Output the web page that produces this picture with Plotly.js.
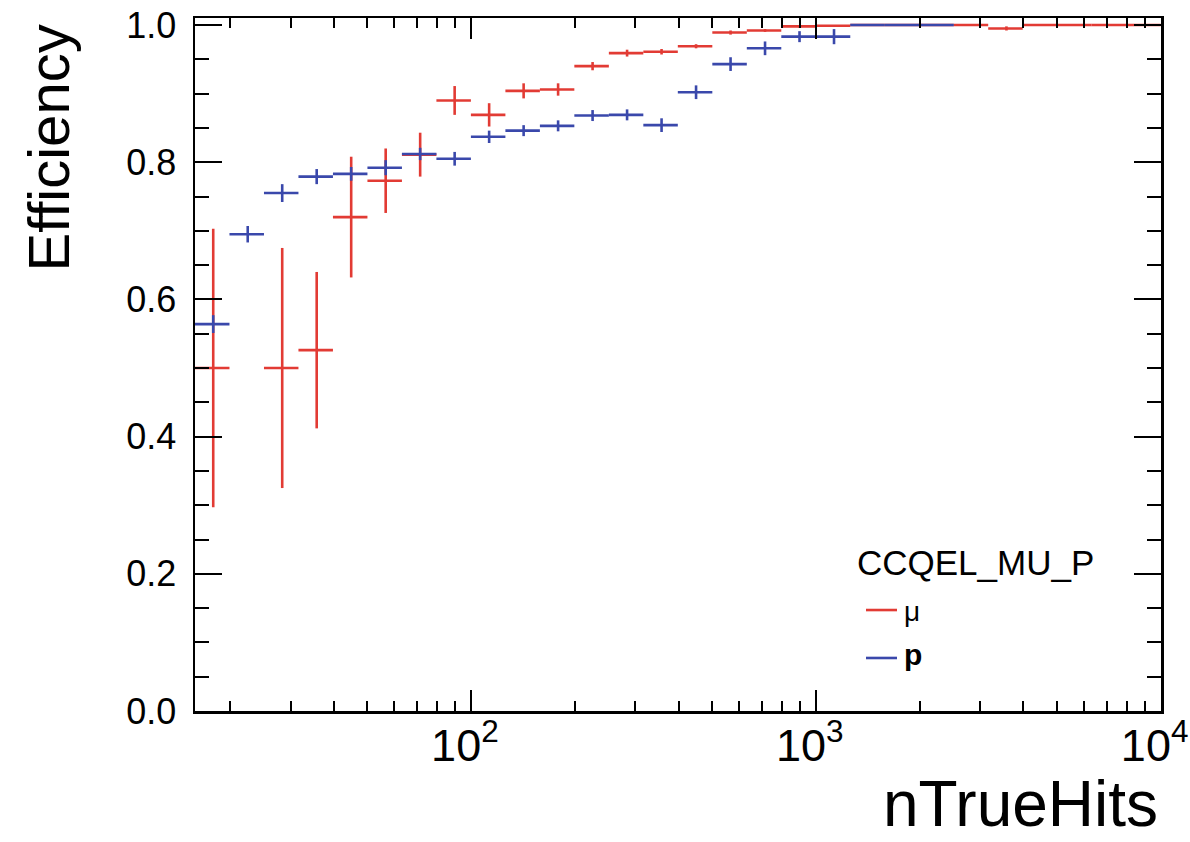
<!DOCTYPE html>
<html>
<head>
<meta charset="utf-8">
<script src="https://cdn.plot.ly/plotly-3.0.1.min.js"></script>
<style>
  html, body { margin: 0; padding: 0; background: #ffffff; }
  #chart { width: 1190px; height: 842px; }
</style>
</head>
<body>
<div id="chart"></div>
<script>
// Bin edges in nTrueHits (logarithmic binning, 0.1 decade per bin)
const binEdges = [15.85, 19.95, 25.12, 31.62, 39.81, 50.12, 63.10, 79.43, 100,
  125.9, 158.5, 199.5, 251.2, 316.2, 398.1, 501.2, 631.0, 794.3, 1000,
  1259, 1585, 1995, 2512, 3162, 3981, 5012, 6310, 7943, 10000];

// Muon reconstruction efficiency per bin and its uncertainty
const muEff = [0.500, null, 0.500, 0.526, 0.720, 0.773, 0.811, 0.890, 0.869,
  0.904, 0.906, 0.940, 0.959, 0.961, 0.969, 0.989, 0.992, 0.998, 0.999,
  1.000, 1.000, 1.000, 1.000, 0.995, 1.000, 1.000, 1.000, 1.000];
const muErr = [0.203, null, 0.175, 0.114, 0.088, 0.047, 0.032, 0.021, 0.017,
  0.011, 0.009, 0.006, 0.005, 0.004, 0.003, 0.003, 0.002, 0.002, 0.001,
  0, 0, 0, 0, 0.003, 0, 0, 0, 0];

// Proton reconstruction efficiency per bin and its uncertainty
const pEff = [0.564, 0.695, 0.755, 0.779, 0.783, 0.792, 0.812, 0.805, 0.837,
  0.846, 0.853, 0.868, 0.869, 0.854, 0.902, 0.943, 0.966, 0.983, 0.983,
  1.000, 1.000, 1.000, null, null, null, null, null, null];
const pErr = [0.013, 0.012, 0.013, 0.011, 0.010, 0.011, 0.009, 0.010, 0.009,
  0.008, 0.008, 0.008, 0.008, 0.010, 0.010, 0.010, 0.010, 0.008, 0.011,
  0, 0, 0, null, null, null, null, null, null];

const sampleLabel = 'CCQEL_MU_P';
const seriesNames = ['\u03bc', '<b>p</b>'];
const xTitle = 'nTrueHits';
const yTitle = 'Efficiency';

const RED = '#e23b34';
const BLUE = '#3a48ab';
const FONT = 'Liberation Sans, Arial, Helvetica, sans-serif';

// Bin centres and half-widths (drawn as horizontal error bars)
const centers = [], lowErr = [], highErr = [];
for (let i = 0; i < binEdges.length - 1; i++) {
  const c = 0.5 * (binEdges[i] + binEdges[i + 1]);
  centers.push(c);
  lowErr.push(c - binEdges[i]);
  highErr.push(binEdges[i + 1] - c);
}

function histTrace(values, errors, color, name) {
  return {
    type: 'scatter',
    mode: 'markers',
    name: name,
    x: centers,
    y: values,
    showlegend: false,
    hoverinfo: 'x+y',
    marker: { size: 1, color: 'rgba(0,0,0,0)' },
    error_y: { type: 'data', array: errors, visible: true, color: color, thickness: 2.6, width: 0 },
    error_x: { type: 'data', symmetric: false, array: highErr, arrayminus: lowErr,
               visible: true, color: color, thickness: 2.6, width: 0 },
    cliponaxis: true
  };
}

const traces = [
  histTrace(muEff, muErr, RED, 'mu'),
  histTrace(pEff, pErr, BLUE, 'p')
];

const axisCommon = {
  showline: true, linecolor: '#000', linewidth: 2.5,
  mirror: 'allticks', ticks: 'inside', tickcolor: '#000', tickwidth: 2.2,
  showgrid: false, zeroline: false,
  ticklabeloverflow: 'allow',
  tickfont: { family: FONT, size: 36, color: '#000' }
};

const layout = {
  width: 1190, height: 842,
  margin: { l: 195, r: 29, t: 18, b: 131, pad: 0 },
  paper_bgcolor: '#ffffff', plot_bgcolor: '#ffffff',
  showlegend: false,
  xaxis: Object.assign({}, axisCommon, {
    type: 'log', range: [1.2, 4.001], dtick: 1,
    exponentformat: 'power', showexponent: 'all',
    ticklen: 21, ticklabelstandoff: -5, ticklabelshift: -6,
    minor: { ticks: 'inside', ticklen: 10, tickwidth: 2, tickcolor: '#000', dtick: 'D1', showgrid: false }
  }),
  yaxis: Object.assign({}, axisCommon, {
    range: [0, 1.0102], dtick: 0.2, tick0: 0, tickformat: '.1f',
    ticklen: 27, ticklabelstandoff: 9,
    minor: { ticks: 'inside', ticklen: 14, tickwidth: 2, tickcolor: '#000', dtick: 0.05, showgrid: false }
  }),
  annotations: [
    { text: xTitle, xref: 'paper', yref: 'paper', x: 0.999, y: -0.189,
      xanchor: 'right', yanchor: 'bottom', showarrow: false,
      font: { family: FONT, size: 64, color: '#000' } },
    { text: yTitle, xref: 'paper', yref: 'paper', x: -0.152, y: 0.993,
      xanchor: 'center', yanchor: 'top', textangle: -90, showarrow: false,
      font: { family: FONT, size: 58, color: '#000' } },
    { text: sampleLabel, xref: 'paper', yref: 'paper', x: 0.6832, y: 0.215,
      xanchor: 'left', yanchor: 'middle', showarrow: false,
      font: { family: FONT, size: 35, color: '#000' } },
    { text: seriesNames[0], xref: 'paper', yref: 'paper', x: 0.7319, y: 0.143,
      xanchor: 'left', yanchor: 'middle', showarrow: false,
      font: { family: FONT, size: 28, color: '#000' } },
    { text: seriesNames[1], xref: 'paper', yref: 'paper', x: 0.7319, y: 0.081,
      xanchor: 'left', yanchor: 'middle', showarrow: false,
      font: { family: FONT, size: 30, color: '#000' } }
  ],
  shapes: [
    { type: 'line', xref: 'paper', yref: 'paper', x0: 0.6946, x1: 0.7267, y0: 0.1457, y1: 0.1457,
      line: { color: RED, width: 2.6 } },
    { type: 'line', xref: 'paper', yref: 'paper', x0: 0.6946, x1: 0.7267, y0: 0.0765, y1: 0.0765,
      line: { color: BLUE, width: 2.6 } }
  ]
};

Plotly.newPlot('chart', traces, layout, { displayModeBar: false, staticPlot: true });
</script>
</body>
</html>
